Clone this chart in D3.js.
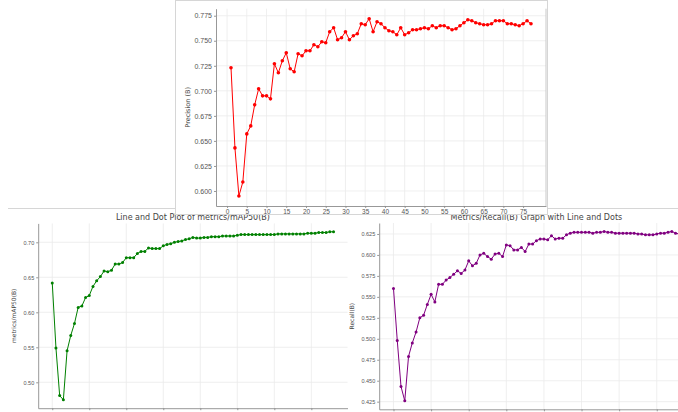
<!DOCTYPE html>
<html>
<head>
<meta charset="utf-8">
<script src="https://cdn.jsdelivr.net/npm/d3@7"></script>
<style>
body { margin: 0; background: #fff; }
svg { display: block; font-family: "DejaVu Sans", sans-serif; }
.grid line { stroke: #ebebeb; stroke-width: 0.8; }
.axis path, .axis line { stroke: #8c8c8c; stroke-width: 0.9; }
.axis text { fill: #555; }
</style>
</head>
<body>
<svg id="chart" width="678" height="412"></svg>
<script>
// values (one value per epoch)
var precision = [0.723, 0.643, 0.595, 0.609, 0.657, 0.665, 0.686, 0.702, 0.695, 0.695,
  0.692, 0.727, 0.718, 0.730, 0.738, 0.722, 0.719, 0.737, 0.735, 0.740,
  0.740, 0.746, 0.744, 0.749, 0.748, 0.759, 0.763, 0.751, 0.753, 0.759,
  0.751, 0.755, 0.757, 0.767, 0.766, 0.772, 0.759, 0.769, 0.767, 0.763,
  0.760, 0.759, 0.756, 0.763, 0.756, 0.758, 0.761, 0.761, 0.762, 0.763,
  0.762, 0.765, 0.763, 0.765, 0.765, 0.763, 0.761, 0.762, 0.765, 0.768,
  0.771, 0.770, 0.768, 0.767, 0.766, 0.766, 0.767, 0.770, 0.770, 0.770,
  0.767, 0.767, 0.766, 0.765, 0.767, 0.770, 0.767];

var map50 = [0.642, 0.549, 0.481, 0.475, 0.545, 0.567, 0.584, 0.607, 0.609, 0.621,
  0.624, 0.637, 0.645, 0.651, 0.659, 0.658, 0.660, 0.669, 0.669, 0.671,
  0.678, 0.678, 0.678, 0.684, 0.687, 0.687, 0.692, 0.691, 0.691, 0.691,
  0.695, 0.697, 0.698, 0.700, 0.701, 0.702, 0.704, 0.705, 0.707, 0.706,
  0.706, 0.707, 0.707, 0.708, 0.708, 0.708, 0.709, 0.709, 0.709, 0.709,
  0.710, 0.711, 0.711, 0.711, 0.711, 0.711, 0.711, 0.711, 0.711, 0.711,
  0.711, 0.712, 0.712, 0.712, 0.712, 0.712, 0.712, 0.712, 0.712, 0.713,
  0.713, 0.713, 0.714, 0.714, 0.714, 0.715, 0.715];

var recall = [0.560, 0.498, 0.443, 0.426, 0.479, 0.495, 0.508, 0.525, 0.528, 0.541,
  0.553, 0.544, 0.565, 0.565, 0.570, 0.573, 0.577, 0.581, 0.578, 0.582,
  0.593, 0.587, 0.590, 0.600, 0.602, 0.598, 0.595, 0.601, 0.602, 0.598,
  0.612, 0.611, 0.606, 0.606, 0.609, 0.604, 0.613, 0.613, 0.617, 0.619,
  0.619, 0.618, 0.623, 0.619, 0.620, 0.620, 0.624, 0.626, 0.627, 0.627,
  0.627, 0.627, 0.627, 0.626, 0.627, 0.627, 0.628, 0.627, 0.627, 0.626,
  0.626, 0.626, 0.626, 0.626, 0.626, 0.625, 0.625, 0.624, 0.624, 0.624,
  0.625, 0.626, 0.626, 0.627, 0.628, 0.626, 0.625];

var precisionTicksX = [0, 5, 10, 15, 20, 25, 30, 35, 40, 45, 50, 55, 60, 65, 70, 75];
var precisionTicksY = [0.600, 0.625, 0.650, 0.675, 0.700, 0.725, 0.750, 0.775];
var lowerTicksX = [0, 10, 20, 30, 40, 50, 60, 70];
var map50TicksY = [0.50, 0.55, 0.60, 0.65, 0.70];
var recallTicksY = [0.425, 0.450, 0.475, 0.500, 0.525, 0.550, 0.575, 0.600, 0.625];

var svg = d3.select("#chart");
var defs = svg.append("defs");

function drawPanel(p) {
  defs.append("clipPath").attr("id", p.id)
    .append("rect").attr("x", p.box[0]).attr("y", p.box[1])
    .attr("width", p.box[2]).attr("height", p.box[3]);

  var g = svg.append("g").attr("clip-path", "url(#" + p.id + ")");

  g.append("rect")
    .attr("x", p.box[0] + 0.5).attr("y", p.box[1] + 0.5)
    .attr("width", p.box[2] - 1).attr("height", p.box[3] - 1)
    .style("fill", "#fff")
    .style("stroke", p.border ? "#d6d6d6" : "none");

  if (p.topLine) {
    g.append("line")
      .attr("x1", p.topLine[0]).attr("x2", p.topLine[1])
      .attr("y1", p.box[1] + 1.5).attr("y2", p.box[1] + 1.5)
      .style("stroke", "#d6d6d6");
  }

  var x = d3.scaleLinear().domain(p.xDomain).range(p.xRange);
  var y = d3.scaleLinear().domain(p.yDomain).range(p.yRange);

  // grid
  var grid = g.append("g").attr("class", "grid");
  grid.selectAll(".gx").data(p.ticksX).enter().append("line")
    .attr("x1", function(d) { return x(d); }).attr("x2", function(d) { return x(d); })
    .attr("y1", p.yRange[0]).attr("y2", p.yRange[1]);
  grid.selectAll(".gy").data(p.ticksY).enter().append("line")
    .attr("y1", function(d) { return y(d); }).attr("y2", function(d) { return y(d); })
    .attr("x1", p.xRange[0]).attr("x2", p.xRange[1]);

  var xAxis = g.append("g").attr("class", "axis")
    .attr("transform", "translate(0," + p.yRange[0] + ")")
    .call(d3.axisBottom(x).tickValues(p.ticksX).tickSize(2).tickSizeOuter(0).tickPadding(1.5));
  xAxis.selectAll("text").style("font-size", p.xFont + "px");

  var yAxis = g.append("g").attr("class", "axis")
    .attr("transform", "translate(" + p.xRange[0] + ",0)")
    .call(d3.axisLeft(y).tickValues(p.ticksY).tickFormat(d3.format(p.yFormat))
      .tickSize(2).tickSizeOuter(0).tickPadding(2));
  yAxis.selectAll("text").style("font-size", p.yFont + "px");

  if (p.rightSpine) {
    g.append("line")
      .attr("x1", p.xRange[1]).attr("x2", p.xRange[1])
      .attr("y1", p.yRange[0]).attr("y2", p.yRange[1])
      .style("stroke", "#c8c8c8");
  }

  var line = d3.line()
    .x(function(d, i) { return x(i + p.start); })
    .y(function(d) { return y(d); });

  g.append("path").datum(p.values)
    .attr("d", line)
    .style("fill", "none")
    .style("stroke", p.color)
    .style("stroke-width", 1);

  g.selectAll(".dot").data(p.values).enter().append("circle")
    .attr("cx", function(d, i) { return x(i + p.start); })
    .attr("cy", function(d) { return y(d); })
    .attr("r", p.r)
    .style("fill", p.color);

  if (p.title) {
    g.append("text")
      .attr("x", (p.xRange[0] + p.xRange[1]) / 2).attr("y", p.yRange[1] - 3)
      .attr("text-anchor", "middle")
      .style("font-size", "8px").style("fill", "#444")
      .text(p.title);
  }

  g.append("text")
    .attr("transform", "translate(" + p.labelX + "," + ((p.yRange[0] + p.yRange[1]) / 2) + ") rotate(-90)")
    .attr("text-anchor", "middle")
    .style("font-size", p.labelFont + "px").style("fill", "#444")
    .text(p.yLabel);
}

// bottom left: mAP50
drawPanel({
  id: "clipMap", box: [0, 207, 348, 205], topLine: [8, 348],
  xDomain: [-3.8, 79.8], xRange: [38.2, 347.6],
  yDomain: [0.463, 0.727], yRange: [408.2, 223.4],
  ticksX: lowerTicksX, ticksY: map50TicksY, yFormat: ".2f",
  xFont: 5.5, yFont: 5.5,
  values: map50, start: 0, color: "#008000", r: 1.5,
  title: "Line and Dot Plot of metrics/mAP50(B)",
  yLabel: "metrics/mAP50(B)", labelX: 16, labelFont: 6
});

// bottom right: recall
drawPanel({
  id: "clipRecall", box: [348, 207, 330, 205], topLine: [348, 678],
  xDomain: [-3.8, 79.8], xRange: [379.2, 693.6],
  yDomain: [0.4159, 0.6381], yRange: [409.3, 223],
  ticksX: lowerTicksX, ticksY: recallTicksY, yFormat: ".3f",
  xFont: 5.5, yFont: 5.5,
  values: recall, start: 0, color: "#800080", r: 1.5,
  title: "Metrics/Recall(B) Graph with Line and Dots",
  yLabel: "Recall(B)", labelX: 354, labelFont: 6
});

// top: precision, pasted over the other two
drawPanel({
  id: "clipPrec", box: [175, 0, 373, 215], border: true, rightSpine: true,
  xDomain: [-2.8, 80.8], xRange: [216, 546],
  yDomain: [0.585, 0.782], yRange: [206, 8.7],
  ticksX: precisionTicksX, ticksY: precisionTicksY, yFormat: ".3f",
  xFont: 6.5, yFont: 7,
  values: precision, start: 1, color: "#ff0000", r: 1.8,
  title: null,
  yLabel: "Precision (B)", labelX: 190, labelFont: 6.5
});
</script>
</body>
</html>
